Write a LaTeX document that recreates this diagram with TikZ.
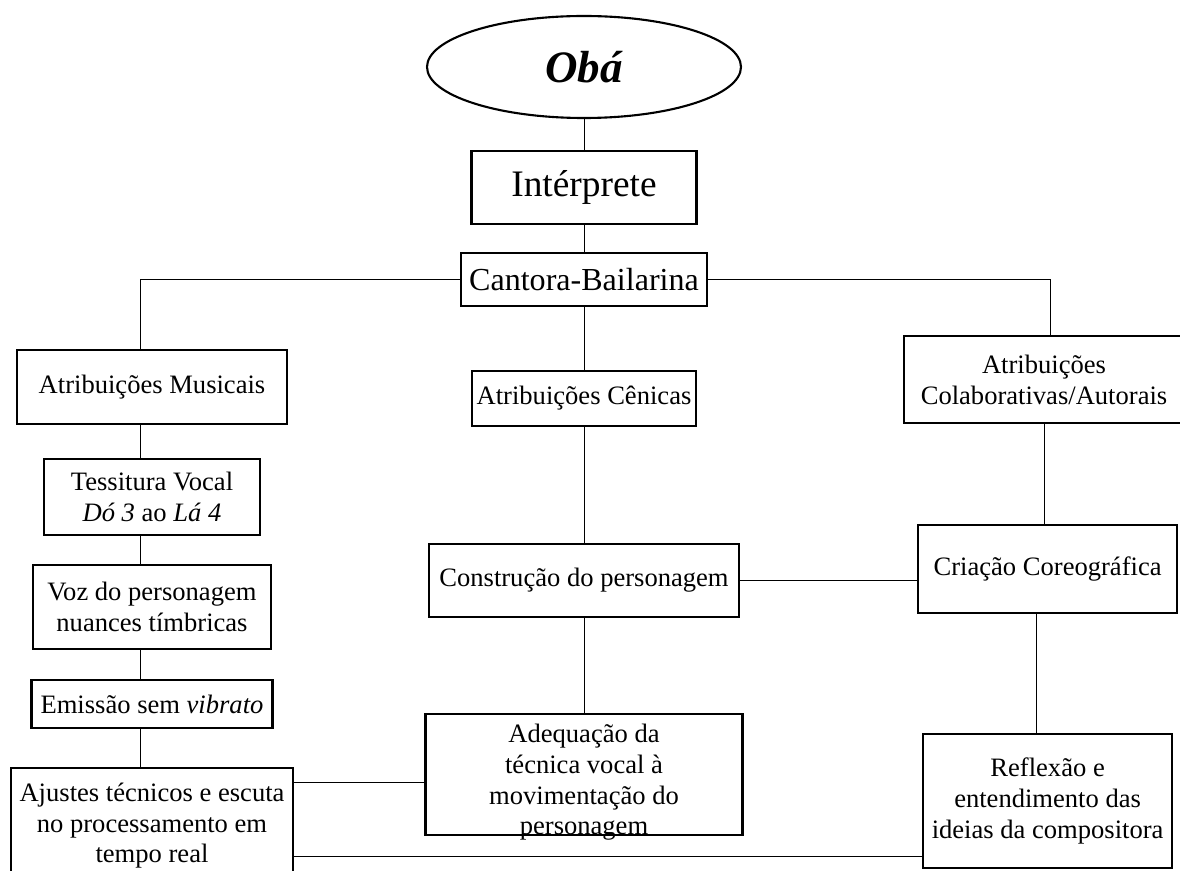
\documentclass[tikz,border=0pt]{standalone}
\usepackage{fontspec}
\setmainfont{Liberation Serif}
\usetikzlibrary{shapes.geometric}

\tikzset{
  box/.style={rectangle, draw, line width=1.7pt, inner sep=0pt, align=center,
              font=\fontsize{18.9}{21.8}\selectfont},
  link/.style={line width=0.7pt},
}

\begin{document}
\begin{tikzpicture}
\useasboundingbox (0,0) rectangle (29.5,-21.775);

% Topo
\node[ellipse, draw, line width=1.5pt, inner sep=0pt, minimum width=7.85cm, minimum height=2.55cm,
      font=\fontsize{32}{38}\selectfont\bfseries\itshape] (oba) at (14.6,-1.675) {Obá};
\node[box, minimum width=5.625cm, minimum height=1.825cm, font=\fontsize{26.6}{30}\selectfont] (interprete) at (14.6,-4.69) {Intérprete};
\node[box, minimum width=6.15cm, minimum height=1.325cm, font=\fontsize{22.8}{26}\selectfont] (cantora) at (14.6,-6.99) {Cantora-Bailarina};

% Atribuicoes
\node[box, minimum width=6.75cm, minimum height=1.85cm] (musicais) at (3.8,-9.675) {Atribuições Musicais};
\node[box, minimum width=5.6cm, minimum height=1.375cm] (cenicas) at (14.6,-9.96) {Atribuições Cênicas};
\node[box, minimum width=7cm, minimum height=2.175cm] (colab) at (26.1,-9.49) {Atribuições\\Colaborativas/Autorais};

% Coluna esquerda
\node[box, minimum width=5.4cm, minimum height=1.9cm] (tessitura) at (3.8,-12.425) {Tessitura Vocal\\\textit{Dó 3} ao \textit{Lá 4}};
\node[box, minimum width=5.95cm, minimum height=2.1cm] (voz) at (3.8,-15.175) {Voz do personagem\\nuances tímbricas};
\node[box, minimum width=6.025cm, minimum height=1.2cm] (emissao) at (3.8,-17.6) {Emissão sem \textit{vibrato}};
\node[box, minimum width=7.05cm, minimum height=2.875cm] (ajustes) at (3.8,-20.64) {Ajustes técnicos e escuta\\no processamento em\\tempo real};

% Coluna central
\node[box, minimum width=7.75cm, minimum height=1.825cm] (construcao) at (14.6,-14.51) {Construção do personagem};
\node[box, minimum width=7.925cm, minimum height=2.975cm, text height=86pt, text depth=0pt] (adequacao) at (14.6,-19.36) {Adequação da\\técnica vocal à\\movimentação do\\personagem};

% Coluna direita
\node[box, minimum width=6.475cm, minimum height=2.2cm] (criacao) at (26.19,-14.225) {Criação Coreográfica};
\node[box, minimum width=6.225cm, minimum height=3.35cm] (reflexao) at (26.19,-20.025) {Reflexão e\\entendimento das\\ideias da compositora};

% Ligacoes
\draw[link] (oba.south) -- (interprete.north);
\draw[link] (interprete.south) -- (cantora.north);
\draw[link] (cantora.west) -| ([xshift=-0.3cm]musicais.north);
\draw[link] (cantora.east) -| ([xshift=0.15cm]colab.north);
\draw[link] (cantora.south) -- (cenicas.north);
\draw[link] (cenicas.south) -- (construcao.north);
\draw[link] (construcao.south) -- (adequacao.north);
\draw[link] (construcao.east) -- (construcao.east -| criacao.west);
\draw[link] (colab.south) -- (colab.south |- criacao.north);
\draw[link] ([xshift=-0.29cm]criacao.south) -- ([xshift=-0.29cm]reflexao.north);

\draw[link] ([xshift=-0.3cm]musicais.south) -- ([xshift=-0.3cm]tessitura.north);
\draw[link] ([xshift=-0.3cm]tessitura.south) -- ([xshift=-0.3cm]voz.north);
\draw[link] ([xshift=-0.3cm]voz.south) -- ([xshift=-0.3cm]emissao.north);
\draw[link] ([xshift=-0.3cm]emissao.south) -- ([xshift=-0.3cm]ajustes.north);
\draw[link] ([yshift=-0.4cm]ajustes.north east) -- ([yshift=-0.4cm]ajustes.north east -| adequacao.west);
\draw[link] ([yshift=0.325cm]reflexao.south west) -- ([yshift=0.325cm]reflexao.south west -| ajustes.east);

\end{tikzpicture}
\end{document}
